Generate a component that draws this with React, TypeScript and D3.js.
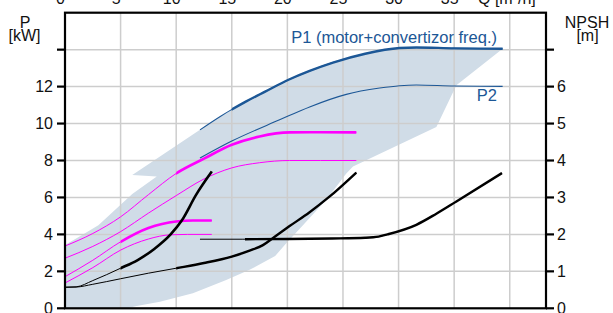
import React from 'react';
import * as d3 from 'd3';

type Pt = [number, number];

const W = 613;
const H = 313;
const FONT = '"Liberation Sans", Arial, sans-serif';
const BLUE = '#1c5796';
const MAGENTA = '#ff00ff';
const SHADE = '#d0dce7';
const GRID = '#cdcdcd';

// axes
const qTicks = [0, 5, 10, 15, 20, 25, 30, 35];
const qGrid = [5, 10, 15, 20, 25, 30, 35, 40];
const pTicks = [0, 2, 4, 6, 8, 10, 12, 14];
const pTickLabels = ['0', '2', '4', '6', '8', '10', '12', ''];
const npshTicks = [0, 1, 2, 3, 4, 5, 6, 7];
const npshTickLabels = ['0', '1', '2', '3', '4', '5', '6', ''];

// power curves, [Q m3/h, P kW]
const p1: Pt[] = [
  [12.14, 9.66], [14, 10.4], [16.3, 11.2], [18, 11.73], [20.1, 12.37], [22, 12.85],
  [24.1, 13.3], [27, 13.78], [30.1, 14.09], [31.6, 14.12], [35, 14.07], [39.36, 14.05],
];
const p2: Pt[] = [
  [12.14, 8.13], [15, 9.05], [19.3, 10.2], [22, 10.9], [25.3, 11.58], [28.3, 11.92],
  [30.1, 12.05], [31.6, 12.09], [35, 12.03], [39.36, 12.01],
];
const magA: Pt[] = [
  [0, 3.37], [2.5, 4.05], [5, 4.95], [7.5, 6.15], [10, 7.3], [12.5, 8.1], [15, 8.85],
  [17.5, 9.3], [20.2, 9.52], [23, 9.53], [26.2, 9.52],
];
const magB: Pt[] = [
  [0, 2.71], [2.5, 3.35], [5, 4.15], [7.5, 5.15], [10, 6.1], [12.5, 7.0], [15, 7.6],
  [17.5, 7.88], [20.2, 8.0], [23, 8.0], [26.2, 8.0],
];
const magC: Pt[] = [
  [0, 1.71], [2.5, 2.6], [5, 3.6], [7.5, 4.35], [10, 4.7], [11.5, 4.75], [13.2, 4.75],
];
const magD: Pt[] = [
  [0, 1.37], [2.5, 2.2], [5, 3.15], [7.5, 3.75], [9.5, 3.98], [11, 4.0], [13.2, 4.0],
];
const blackE: Pt[] = [
  [0, 1.14], [1, 1.16], [2.5, 1.5], [5, 2.17], [6.5, 2.6], [8, 3.2], [9.5, 4.0],
  [10.5, 4.75], [11.8, 6.15], [13.2, 7.4],
];
const blackF: Pt[] = [
  [0, 1.14], [1, 1.15], [2.5, 1.3], [5, 1.6], [7.5, 1.9], [10, 2.17], [12.5, 2.45],
  [15, 2.8], [16.6, 3.12], [17.8, 3.42], [18.8, 3.85], [20.2, 4.45], [22, 5.2],
  [23.7, 6.0], [26.2, 7.35],
];
// NPSH [Q, m]
const npsh: Pt[] = [
  [12.14, 1.87], [16, 1.87], [20, 1.875], [24, 1.89], [27, 1.91], [28.2, 1.94],
  [29, 2.0], [31.6, 2.26], [33.4, 2.56], [35.2, 2.89], [39.3, 3.66],
];

// shaded operating field: goes from P1 end back round to the P1 start
const fieldOutline: Pt[] = [
  [35.2, 12.07], [33.4, 9.81], [25.9, 7.67], [25.3, 7.3], [23.5, 5.87], [21.4, 4.5],
  [19.9, 3.52], [18.9, 2.83], [16.6, 2.08], [14.5, 1.53], [11.5, 0.81], [8.54, 0.36],
  [6.45, 0.12], [5.6, 0], [0, 0], [0, 3.42], [1.5, 3.95], [3, 4.5], [6.05, 6.19],
  [8.25, 7.13], [6.05, 7.22],
];

const x = d3.scaleLinear().domain([0, 43.26]).range([65, 546]);
const y = d3.scaleLinear().domain([0, 16]).range([308.3, 12.7]);
const yN = d3.scaleLinear().domain([0, 8]).range([308.3, 12.7]);

const lineP = d3.line<Pt>().x((d) => x(d[0])).y((d) => y(d[1])).curve(d3.curveMonotoneX);
const lineN = d3.line<Pt>().x((d) => x(d[0])).y((d) => yN(d[1])).curve(d3.curveMonotoneX);

type Curve = { id: string; d: string; color: string; thin: number; thick?: number; from?: number; to?: number };

const curves: Curve[] = [
  { id: 'ma', d: lineP(magA)!, color: MAGENTA, thin: 1, thick: 2.6, from: 10, to: 26.2 },
  { id: 'mb', d: lineP(magB)!, color: MAGENTA, thin: 1 },
  { id: 'mc', d: lineP(magC)!, color: MAGENTA, thin: 1, thick: 2.6, from: 5, to: 13.2 },
  { id: 'md', d: lineP(magD)!, color: MAGENTA, thin: 1 },
  { id: 'p1', d: lineP(p1)!, color: BLUE, thin: 1.1, thick: 2.4, from: 15, to: 39.4 },
  { id: 'p2', d: lineP(p2)!, color: BLUE, thin: 1.1 },
  { id: 'be', d: lineP(blackE)!, color: '#000', thin: 1, thick: 2.6, from: 5, to: 13.2 },
  { id: 'bf', d: lineP(blackF)!, color: '#000', thin: 1, thick: 2.4, from: 10, to: 26.2 },
  { id: 'np', d: lineN(npsh)!, color: '#000', thin: 1, thick: 2.4, from: 16.2, to: 39.4 },
];

export default function App() {
  const x0 = x.range()[0];
  const x1 = x.range()[1];
  const yTop = y.range()[1];
  const yBot = y.range()[0];

  const fieldPath =
    lineP(p1)! + fieldOutline.map((p) => `L${x(p[0])},${y(p[1])}`).join('') + 'Z';

  return (
    <svg
      width={W}
      height={H}
      style={{ position: 'absolute', left: 0, top: 0, display: 'block', background: '#fff' }}
      fontFamily={FONT}
      fontSize={16}
    >
      <defs>
        {curves
          .filter((c) => c.thick)
          .map((c) => (
            <clipPath id={`clip-${c.id}`} key={c.id}>
              <rect x={x(c.from!)} y={0} width={x(c.to!) - x(c.from!) + 2} height={H} />
            </clipPath>
          ))}
      </defs>

      <path d={fieldPath} fill={SHADE} />

      {/* grid */}
      {qGrid.map((q) => (
        <line key={`gx${q}`} x1={x(q)} x2={x(q)} y1={yTop} y2={yBot} stroke={GRID} strokeWidth={1.5} />
      ))}
      {pTicks.slice(1).map((p) => (
        <line key={`gy${p}`} x1={x0} x2={x1} y1={y(p)} y2={y(p)} stroke={GRID} strokeWidth={1.5} />
      ))}

      {/* curves */}
      {curves.map((c) => (
        <g key={c.id}>
          <path d={c.d} fill="none" stroke={c.color} strokeWidth={c.thin} />
          {c.thick && (
            <path
              d={c.d}
              fill="none"
              stroke={c.color}
              strokeWidth={c.thick}
              clipPath={`url(#clip-${c.id})`}
            />
          )}
        </g>
      ))}

      {/* frame */}
      <rect x={x0} y={yTop} width={x1 - x0} height={yBot - yTop} fill="none" stroke="#000" strokeWidth={2.2} />

      {/* left axis */}
      {pTicks.map((p, i) => (
        <g key={`lt${p}`}>
          <line x1={x0 - 8} x2={x0} y1={y(p)} y2={y(p)} stroke="#000" strokeWidth={2.2} />
          <text x={x0 - 12} y={y(p)} dy="0.36em" textAnchor="end" fill="#111">
            {pTickLabels[i]}
          </text>
        </g>
      ))}
      {/* right axis */}
      {npshTicks.map((n, i) => (
        <g key={`rt${n}`}>
          <line x1={x1} x2={x1 + 8} y1={yN(n)} y2={yN(n)} stroke="#000" strokeWidth={2.2} />
          <text x={x1 + 11} y={yN(n)} dy="0.36em" textAnchor="start" fill="#111">
            {npshTickLabels[i]}
          </text>
        </g>
      ))}
      {/* top axis labels, partly cut by the page edge */}
      {qTicks.map((q) => (
        <text key={`qt${q}`} x={x(q) - 4.5} y={3.5} textAnchor="middle" fill="#111">
          {q}
        </text>
      ))}
      <text x={478} y={3.5} fill="#111">Q [m³/h]</text>

      <text x={25} y={27.5} textAnchor="middle" fill="#111">P</text>
      <text x={24.5} y={41} textAnchor="middle" fill="#111">[kW]</text>
      <text x={587} y={27.5} textAnchor="middle" fill="#111">NPSH</text>
      <text x={587.5} y={41} textAnchor="middle" fill="#111">[m]</text>

      <text x={497} y={43} textAnchor="end" fill={BLUE} fontSize={16.5}>P1 (motor+convertizor freq.)</text>
      <text x={497} y={101} textAnchor="end" fill={BLUE} fontSize={16.5}>P2</text>
    </svg>
  );
}
